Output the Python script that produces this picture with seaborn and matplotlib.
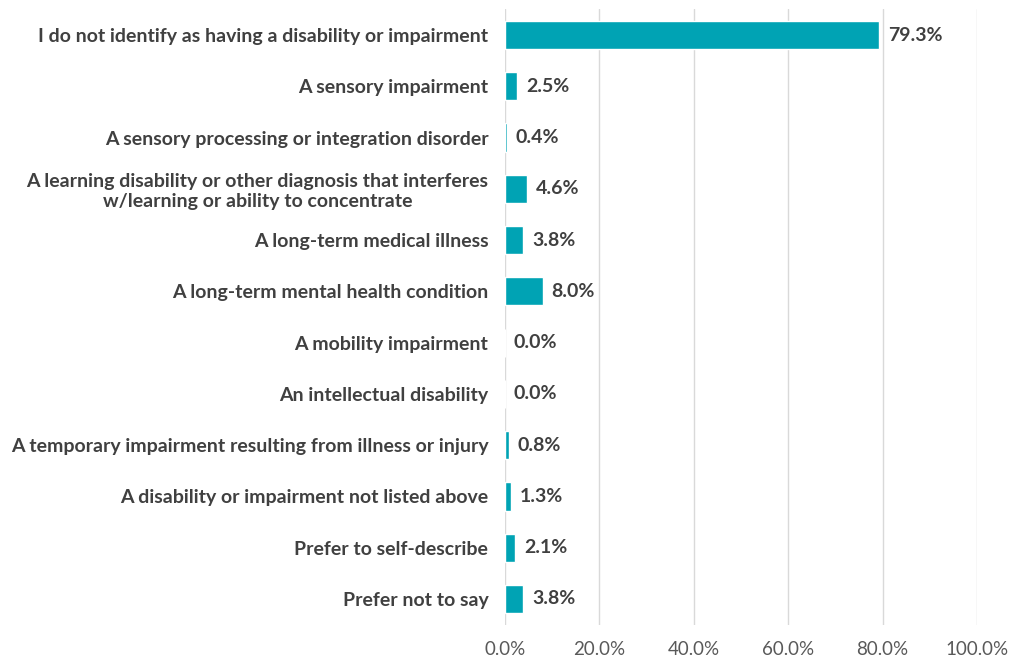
import numpy as np
import pandas as pd
import seaborn as sns
import matplotlib.pyplot as plt
from matplotlib.ticker import FuncFormatter

categories = [
    "I do not identify as having a disability or impairment",
    "A sensory impairment",
    "A sensory processing or integration disorder",
    "A learning disability or other diagnosis that interferes\nw/learning or ability to concentrate",
    "A long-term medical illness",
    "A long-term mental health condition",
    "A mobility impairment",
    "An intellectual disability",
    "A temporary impairment resulting from illness or injury",
    "A disability or impairment not listed above",
    "Prefer to self-describe",
    "Prefer not to say",
]
values = [79.3, 2.5, 0.4, 4.6, 3.8, 8.0, 0.0, 0.0, 0.8, 1.3, 2.1, 3.8]

df = pd.DataFrame({"category": categories, "pct": values})

sns.set_style("white")
plt.rcParams['font.family'] = ['Lato', 'DejaVu Sans']

fig = plt.figure(figsize=(10.22, 6.63), dpi=100)
ax = fig.add_axes([505 / 1022, 1 - 624.6 / 663, 472 / 1022, (624.6 - 9.4) / 663])

sns.barplot(data=df, x="pct", y="category", color="#00A3B4", width=0.55,
            saturation=1, ax=ax, orient="h")

ax.set_xlim(0, 100)
ax.set_xticks(np.arange(0, 101, 20))
ax.xaxis.set_major_formatter(FuncFormatter(lambda v, p: f"{v:.1f}%"))
ax.grid(axis="x", color="#D9D9D9", linewidth=1)
ax.set_axisbelow(True)
for s in ax.spines.values():
    s.set_visible(False)
ax.set_xlabel("")
ax.set_ylabel("")
ax.tick_params(axis="x", colors="#595959", labelsize=13.5, length=0, pad=12)
ax.tick_params(axis="y", length=0, pad=12)
for lab in ax.get_yticklabels():
    lab.set_fontweight("bold")
    lab.set_color("#404040")
    lab.set_fontsize(14)
    lab.set_multialignment("center")

for i, v in enumerate(values):
    ax.text(v + 1.9, i, f"{v:.1f}%", va="center", ha="left", fontsize=14,
            fontweight="bold", color="#404040")

fig.savefig("out.png", dpi=100)
